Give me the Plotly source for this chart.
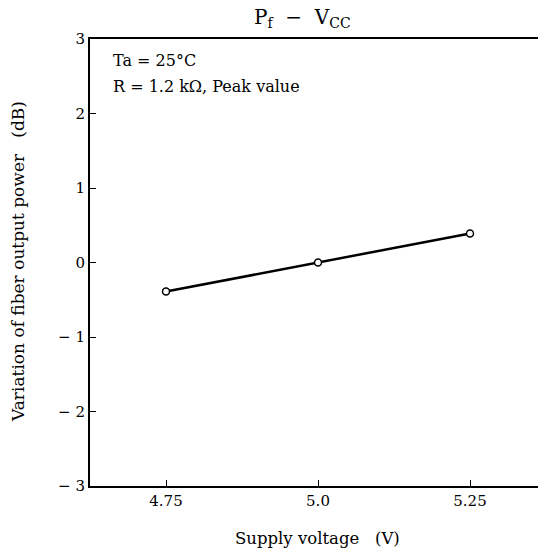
import plotly.graph_objects as go

voltage = [4.75, 5.0, 5.25]
variation = [-0.39, 0.0, 0.39]
x_ticks = [4.75, 5.0, 5.25]
x_ticklabels = ["4.75", "5.0", "5.25"]
y_ticks = [-3, -2, -1, 0, 1, 2, 3]
y_ticklabels = ["− 3", "− 2", "− 1", "0", "1", "2", "3"]

FONT = "DejaVu Serif"

# page has an 8px body margin; plot area spans x 90..546, y 39..486 on the page
PX0, PX1, PY0, PY1 = 90.0, 546.0, 39.0, 486.0


def px(x):
    return (x - PX0) / (PX1 - PX0)


def py(y):
    return (PY1 - y) / (PY1 - PY0)


fig = go.Figure()
fig.add_trace(go.Scatter(
    x=voltage, y=variation, mode="lines+markers",
    line=dict(color="black", width=2.5),
    marker=dict(symbol="circle", size=7, color="white",
                line=dict(color="black", width=1.5)),
    showlegend=False, cliponaxis=False,
))

fig.update_layout(
    width=538, height=546,
    margin=dict(l=82, r=0, t=31, b=68, pad=0),
    paper_bgcolor="white", plot_bgcolor="white",
    font=dict(family=FONT, size=15, color="black"),
    xaxis=dict(
        range=[4.625, 5.375], tickvals=x_ticks, ticktext=x_ticklabels,
        ticks="inside", ticklen=6, tickwidth=1.2, tickcolor="black",
        showline=True, linecolor="black", linewidth=2, mirror=True,
        showgrid=False, zeroline=False, tickfont=dict(size=15),
    ),
    yaxis=dict(
        range=[-3, 3], tickvals=y_ticks, ticktext=y_ticklabels,
        ticks="inside", ticklen=6, tickwidth=1.2, tickcolor="black",
        showline=True, linecolor="black", linewidth=2,
        showgrid=False, zeroline=False, tickfont=dict(size=15),
    ),
    annotations=[
        dict(text="P<sub>f</sub>  −  V<sub>CC</sub>", xref="paper", yref="paper",
             x=px(302), y=py(18), showarrow=False,
             xanchor="center", yanchor="middle", font=dict(family=FONT, size=20)),
        dict(text="Ta = 25°C", xref="paper", yref="paper",
             x=px(111), y=py(60), showarrow=False,
             xanchor="left", yanchor="middle", font=dict(family=FONT, size=16)),
        dict(text="R = 1.2 kΩ, Peak value", xref="paper", yref="paper",
             x=px(111), y=py(86), showarrow=False,
             xanchor="left", yanchor="middle", font=dict(family=FONT, size=16)),
        dict(text="Supply voltage   (V)", xref="paper", yref="paper",
             x=px(317), y=py(538), showarrow=False,
             xanchor="center", yanchor="middle", font=dict(family=FONT, size=16.5)),
        dict(text="Variation of fiber output power   (dB)", xref="paper", yref="paper",
             x=px(18), y=py(262), showarrow=False, textangle=-90,
             xanchor="center", yanchor="middle", font=dict(family=FONT, size=17)),
    ],
)

fig.write_html("out.html")
